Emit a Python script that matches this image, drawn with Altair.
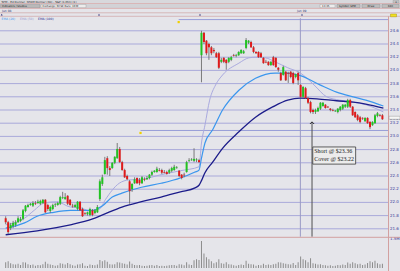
import altair as alt
import pandas as pd

# ---------------- data ----------------
opens = [
    21.76, 21.70, 21.61, 21.64, 21.66, 21.70, 21.72, 21.75, 21.87, 21.93,
    21.96, 21.95, 21.99, 21.99, 21.98, 21.99, 22.04, 21.96, 21.87, 21.90,
    21.96, 21.96, 21.98, 22.07, 22.05, 22.10, 22.04, 21.95, 21.93, 21.90,
    22.01, 21.90, 21.84, 21.82, 21.81, 21.88, 21.84, 21.85, 22.05, 22.28,
    22.43, 22.67, 22.52, 22.52, 22.60, 22.67, 22.81, 22.61, 22.49, 22.40,
    22.32, 22.20, 22.29, 22.37, 22.34, 22.29, 22.35, 22.35, 22.37, 22.42,
    22.46, 22.46, 22.49, 22.49, 22.46, 22.46, 22.45, 22.48, 22.49, 22.52,
    22.48, 22.42, 22.42, 22.46, 22.63, 22.64, 22.63, 22.64, 22.64,
    24.23, 24.57, 24.45, 24.40, 24.35, 24.31, 24.26, 24.26, 24.13, 24.19,
    24.16, 24.13, 24.16, 24.23, 24.22, 24.23, 24.26, 24.26, 24.34, 24.42,
    24.43, 24.35, 24.28, 24.28, 24.26, 24.19, 24.13, 24.13, 24.08, 24.20,
    24.19, 24.04, 23.96, 23.93, 23.98, 23.96, 23.98, 23.96, 23.90, 23.96,
    23.78, 23.60, 23.73, 23.58, 23.52, 23.40, 23.37, 23.38, 23.42, 23.46,
    23.48, 23.45, 23.42, 23.40, 23.38, 23.37, 23.40, 23.42, 23.45, 23.45,
    23.55, 23.45, 23.37, 23.32, 23.29, 23.28, 23.23, 23.28, 23.22, 23.17,
    23.20, 23.31, 23.32, 23.32,
]
highs = [
    21.79, 21.72, 21.69, 21.72, 21.73, 21.79, 21.78, 21.90, 21.96, 21.98,
    21.99, 22.02, 22.02, 22.04, 22.04, 22.05, 22.05, 21.98, 21.95, 21.98,
    21.99, 22.01, 22.10, 22.16, 22.14, 22.11, 22.05, 21.98, 21.98, 22.02,
    22.02, 21.92, 21.85, 21.86, 21.92, 21.90, 21.90, 21.96, 22.35, 22.42,
    22.69, 22.70, 22.55, 22.61, 22.70, 22.90, 22.84, 22.63, 22.51, 22.42,
    22.34, 22.29, 22.38, 22.38, 22.37, 22.40, 22.38, 22.40, 22.43, 22.48,
    22.49, 22.54, 22.52, 22.51, 22.49, 22.48, 22.51, 22.54, 22.57, 22.55,
    22.49, 22.43, 22.45, 22.63, 22.67, 22.67, 22.82, 22.67, 22.66,
    24.60, 24.58, 24.46, 24.42, 24.37, 24.34, 24.28, 24.28, 24.19, 24.20,
    24.17, 24.20, 24.22, 24.25, 24.25, 24.29, 24.32, 24.31, 24.49, 24.46,
    24.45, 24.37, 24.29, 24.29, 24.28, 24.20, 24.16, 24.14, 24.14, 24.22,
    24.20, 24.05, 23.98, 24.07, 23.99, 23.98, 23.99, 23.98, 23.95, 23.98,
    23.79, 23.76, 23.75, 23.60, 23.54, 23.42, 23.42, 23.45, 23.52, 23.52,
    23.49, 23.46, 23.43, 23.42, 23.40, 23.43, 23.46, 23.49, 23.49, 23.57,
    23.57, 23.46, 23.38, 23.34, 23.31, 23.29, 23.29, 23.29, 23.23, 23.23,
    23.34, 23.37, 23.34, 23.34,
]
lows = [
    21.67, 21.52, 21.58, 21.61, 21.63, 21.69, 21.70, 21.73, 21.85, 21.92,
    21.95, 21.93, 21.96, 21.98, 21.96, 21.98, 21.84, 21.87, 21.84, 21.88,
    21.93, 21.95, 21.96, 22.05, 22.04, 21.96, 21.95, 21.92, 21.92, 21.88,
    21.87, 21.78, 21.81, 21.80, 21.79, 21.79, 21.82, 21.84, 22.02, 22.25,
    22.42, 22.42, 22.40, 22.51, 22.58, 22.66, 22.60, 22.48, 22.37, 22.34,
    21.98, 22.16, 22.28, 22.28, 22.26, 22.28, 22.32, 22.34, 22.35, 22.40,
    22.45, 22.45, 22.47, 22.43, 22.44, 22.42, 22.43, 22.46, 22.48, 22.51,
    22.38, 22.35, 22.38, 22.45, 22.61, 22.63, 22.61, 22.61, 22.60,
    23.82, 24.40, 24.23, 24.16, 24.23, 24.26, 24.19, 24.02, 24.11, 24.11,
    24.01, 24.11, 24.14, 24.21, 24.20, 24.22, 24.25, 24.25, 24.32, 24.40,
    24.34, 24.26, 24.25, 24.19, 24.19, 24.10, 24.11, 24.07, 24.07, 24.07,
    24.04, 23.98, 23.84, 23.92, 23.84, 23.81, 23.88, 23.79, 23.88, 23.78,
    23.58, 23.58, 23.57, 23.49, 23.35, 23.34, 23.34, 23.37, 23.40, 23.45,
    23.42, 23.43, 23.38, 23.38, 23.37, 23.35, 23.38, 23.40, 23.43, 23.43,
    23.43, 23.31, 23.28, 23.23, 23.20, 23.25, 23.22, 23.19, 23.11, 23.16,
    23.19, 23.29, 23.30, 23.25,
]
closes = [
    21.70, 21.55, 21.66, 21.69, 21.70, 21.76, 21.75, 21.88, 21.95, 21.96,
    21.98, 21.99, 21.98, 22.01, 22.02, 22.04, 21.85, 21.90, 21.93, 21.96,
    21.97, 21.99, 22.08, 22.08, 22.08, 21.98, 21.96, 21.94, 21.96, 22.01,
    21.88, 21.79, 21.83, 21.85, 21.90, 21.81, 21.88, 21.93, 22.32, 22.38,
    22.64, 22.52, 22.49, 22.60, 22.69, 22.81, 22.61, 22.49, 22.38, 22.35,
    22.17, 22.28, 22.35, 22.29, 22.29, 22.38, 22.34, 22.37, 22.42, 22.46,
    22.48, 22.51, 22.48, 22.45, 22.45, 22.43, 22.49, 22.52, 22.54, 22.53,
    22.40, 22.37, 22.41, 22.61, 22.64, 22.65, 22.66, 22.65, 22.61,
    24.57, 24.43, 24.26, 24.35, 24.26, 24.29, 24.20, 24.04, 24.16, 24.13,
    24.11, 24.19, 24.20, 24.22, 24.23, 24.28, 24.31, 24.29, 24.46, 24.45,
    24.35, 24.28, 24.26, 24.20, 24.20, 24.11, 24.12, 24.08, 24.13, 24.08,
    24.05, 24.01, 23.85, 24.05, 23.85, 23.95, 23.90, 23.81, 23.94, 23.85,
    23.60, 23.75, 23.58, 23.51, 23.37, 23.37, 23.40, 23.43, 23.51, 23.51,
    23.43, 23.44, 23.40, 23.39, 23.39, 23.42, 23.45, 23.48, 23.48, 23.55,
    23.45, 23.32, 23.29, 23.25, 23.22, 23.27, 23.28, 23.20, 23.14, 23.22,
    23.32, 23.35, 23.31, 23.26,
]
volumes_m = [
    0.30, 0.35, 0.25, 0.20, 0.18, 0.22, 0.15, 0.30, 0.28, 0.20,
    0.15, 0.18, 0.12, 0.15, 0.14, 0.20, 0.32, 0.22, 0.18, 0.15,
    0.12, 0.14, 0.25, 0.22, 0.18, 0.26, 0.20, 0.14, 0.12, 0.18,
    0.20, 0.24, 0.12, 0.10, 0.18, 0.16, 0.14, 0.18, 0.42, 0.35,
    0.40, 0.32, 0.20, 0.18, 0.20, 0.30, 0.28, 0.24, 0.22, 0.18,
    0.34, 0.22, 0.16, 0.14, 0.15, 0.12, 0.10, 0.12, 0.14, 0.16,
    0.12, 0.15, 0.10, 0.12, 0.10, 0.12, 0.14, 0.15, 0.16, 0.12,
    0.20, 0.18, 0.14, 0.30, 0.18, 0.16, 0.40, 0.45, 0.42,
    1.40, 0.75, 0.55, 0.45, 0.35, 0.25, 0.30, 0.45, 0.25, 0.22,
    0.30, 0.20, 0.18, 0.14, 0.12, 0.16, 0.18, 0.15, 0.38, 0.22,
    0.20, 0.18, 0.12, 0.16, 0.14, 0.22, 0.15, 0.18, 0.16, 0.20,
    0.22, 0.30, 0.28, 0.25, 0.22, 0.20, 0.18, 0.26, 0.15, 0.30,
    0.60, 0.45, 0.40, 0.30, 0.50, 0.25, 0.22, 0.18, 0.20, 0.16,
    0.14, 0.12, 0.14, 0.10, 0.12, 0.15, 0.14, 0.18, 0.16, 0.28,
    0.22, 0.30, 0.24, 0.20, 0.22, 0.15, 0.18, 0.26, 0.35, 0.30,
    0.38, 0.25, 0.20, 0.22,
]

ema_fast_idx = [0, 7.6, 11.5, 15.5, 20.6, 26.1, 30, 33.9, 37.9, 40.2, 45.8, 49.7, 54.8, 62.7, 70.5, 78, 79,
                80.4, 82.3, 84.7, 87.5, 94.1, 98.1, 100.8, 104.8, 108.7, 113.8, 118.9, 124.4, 129.5, 134.7,
                140.2, 145.3, 152.4]
ema_fast_val = [21.66, 21.76, 21.88, 21.99, 22.01, 21.93, 21.92, 21.87, 21.90, 22.04, 22.29, 22.34, 22.35,
                22.42, 22.48, 22.54, 22.90, 23.17, 23.55, 23.78, 23.93, 24.11, 24.19, 24.20, 24.19, 24.13,
                24.04, 23.96, 23.78, 23.60, 23.55, 23.52, 23.48, 23.37]
ema_mid_idx = [0, 7.6, 12.7, 19.4, 26.1, 35.1, 39.1, 43, 46.9, 54.8, 62.7, 70.5, 76.4, 78, 79, 80.4, 83.5,
               87.5, 94.1, 100.8, 108.7, 113.8, 118.9, 126.8, 133.5, 140.2, 145.3, 152.4]
ema_mid_val = [21.61, 21.69, 21.79, 21.85, 21.88, 21.88, 21.95, 22.08, 22.14, 22.23, 22.29, 22.37, 22.46,
               22.49, 22.67, 22.90, 23.10, 23.40, 23.70, 23.88, 23.96, 23.96, 23.92, 23.78, 23.67, 23.60,
               23.55, 23.46]
ema_slow_idx = [0, 12.7, 26.1, 35.1, 39.1, 46.9, 54.8, 62.7, 70.5, 76.4, 78, 79, 80.4, 83.5, 87.5, 94.1,
                100.8, 107.9, 113.8, 118.9, 125.6, 133.5, 140.2, 145.3, 152.4]
ema_slow_val = [21.51, 21.57, 21.66, 21.75, 21.81, 21.93, 22.01, 22.08, 22.16, 22.22, 22.26, 22.33, 22.45,
                22.61, 22.82, 23.07, 23.29, 23.45, 23.55, 23.58, 23.57, 23.54, 23.52, 23.49, 23.43]

grid_prices = [24.6, 24.4, 24.2, 24.0, 23.8, 23.6, 23.4, 23.2, 23.0, 22.8, 22.6, 22.4, 22.2, 22.0, 21.8, 21.6]
grid_labels = ["24.6", "24.4", "24.2", "24.0", "23.8", "23.6", "23.4", "23.2", "23.0", "22.8", "22.6",
               "22.4", "22.2", "22.0", "21.8", "21.6"]
last_price = 23.26
last_label = "23.26"
vol_label = "1.5M"
vol_label_value = 1.5
short_text = "Short @ $23.36"
cover_text = "Cover @ $23.22"
cover_price = 23.22
entry_bar = 123.6          # bar where the trade arrow points
session_break = 118.9      # day separator between bars
drawn_levels = [24.77, 23.09]
drawn_level_start = [69.8, 54.4]
legend_names = ["EMA (20)", "EMA (50)", "EMA (100)"]

# ---------------- chart ----------------
BG = "#e5e5ea"
GRID = "#a9a9da"
UP, DOWN = "#22c322", "#e01a1a"
C_FAST, C_MID, C_SLOW = "#aaaadf", "#3a96ee", "#1c1c8a"

n = len(opens)
df = pd.DataFrame({"i": list(range(n)), "o": opens, "h": highs, "l": lows, "c": closes, "v": volumes_m})
df["dir"] = ["up" if c >= o else "down" for o, c in zip(opens, closes)]

xs = alt.Scale(domain=[-0.2754, 157.08], nice=False, zero=False)
ys = alt.Scale(domain=[20.9606, 25.0667], nice=False, zero=False)
vs = alt.Scale(domain=[-0.155, 13.862], nice=False, zero=False)


def X(f):
    return alt.X(f, scale=xs, axis=None)


def Y(f):
    return alt.Y(f, scale=ys, axis=None)


dummy = pd.DataFrame({"d": [0]})

grid_df = pd.DataFrame({"p": grid_prices, "lab": grid_labels})
grid = alt.Chart(grid_df).mark_rule(color=GRID, strokeWidth=1).encode(
    y=Y("p:Q"), x=alt.value(0), x2=alt.value(388))
grid_txt = alt.Chart(grid_df).mark_text(align="left", baseline="middle", fontSize=4, color="#3a3a9a",
                                        font="DejaVu Sans").encode(y=Y("p:Q"), x=alt.value(390), text="lab:N")

lvl_df = pd.DataFrame({"p": drawn_levels, "s": drawn_level_start})
levels = alt.Chart(lvl_df).mark_rule(color="#979dd8", strokeWidth=1).encode(
    y=Y("p:Q"), x=X("s:Q"), x2=alt.value(388))
lvl_mark = alt.Chart(lvl_df).mark_square(size=5, color="#f0d000", opacity=1).encode(
    x=X("s:Q"), y=Y("p:Q"), yOffset=alt.value(2.5))

sep_df = pd.DataFrame({"i": [session_break], "p1": [24.79], "p2": [21.48]})
sep = alt.Chart(sep_df).mark_rule(color="#9a9ac6", strokeWidth=1).encode(x=X("i:Q"), y=Y("p1:Q"), y2="p2:Q")


def ma(idx, val, color, w):
    d = pd.DataFrame({"i": idx, "p": val})
    return alt.Chart(d).mark_line(color=color, strokeWidth=w, interpolate="monotone").encode(
        x=X("i:Q"), y=Y("p:Q"))


fast = ma(ema_fast_idx, ema_fast_val, C_FAST, 1)
mid = ma(ema_mid_idx, ema_mid_val, C_MID, 1.2)
slow = ma(ema_slow_idx, ema_slow_val, C_SLOW, 1.3)

wicks = alt.Chart(df).mark_rule(color="#6e6e6e", strokeWidth=0.9).encode(x=X("i:Q"), y=Y("l:Q"), y2="h:Q")
bodies = alt.Chart(df).mark_bar(size=2).encode(
    x=X("i:Q"), y=Y("o:Q"), y2="c:Q",
    color=alt.Color("dir:N", scale=alt.Scale(domain=["up", "down"], range=[UP, DOWN]), legend=None))

arrow_df = pd.DataFrame({"i": [entry_bar], "p1": [cover_price], "p2": [21.48]})
arrow_line = alt.Chart(arrow_df).mark_rule(color="#505050", strokeWidth=1).encode(
    x=X("i:Q"), y=Y("p1:Q"), y2="p2:Q")
arrow_head = alt.Chart(arrow_df).mark_point(shape="M -1 1 L 0 0 L 1 1", filled=False, size=18,
                                            color="#303030", strokeWidth=1, opacity=1).encode(
    x=X("i:Q"), y=Y("p1:Q"))
box_df = pd.DataFrame({"i1": [entry_bar + 0.3], "i2": [entry_bar + 17.6], "p1": [22.84], "p2": [22.58]})
box = alt.Chart(box_df).mark_rect(fill="#ececec", stroke="#3a3a3a", strokeWidth=0.8).encode(
    x=X("i1:Q"), x2="i2:Q", y=Y("p1:Q"), y2="p2:Q")
ann_df = pd.DataFrame({"i": [entry_bar + 0.9, entry_bar + 0.9], "p": [22.775, 22.66],
                       "t": [short_text, cover_text]})
ann = alt.Chart(ann_df).mark_text(align="left", baseline="middle", fontSize=6, color="#1a1a1a",
                                  font="Liberation Serif").encode(x=X("i:Q"), y=Y("p:Q"), text="t:N")

last_df = pd.DataFrame({"p": [last_price], "t": [last_label]})
last_box = alt.Chart(last_df).mark_rect(fill="#f6f6f6", stroke="#9a9a9a", strokeWidth=0.5).encode(
    y=Y("p:Q"), yOffset=alt.value(-3), y2=alt.Y2Datum(last_price), x=alt.value(389), x2=alt.value(400))
last_txt = alt.Chart(last_df).mark_text(align="left", baseline="middle", fontSize=4, color="#1a1a5a",
                                        font="DejaVu Sans").encode(y=Y("p:Q"), x=alt.value(390), text="t:N")

price = alt.layer(grid, grid_txt, levels, sep, fast, mid, slow, wicks, bodies, lvl_mark,
                  arrow_line, arrow_head, box, ann, last_txt)

vol = alt.Chart(df).mark_bar(size=1, color="#8c8c8c").encode(
    x=X("i:Q"), y=alt.Y("v:Q", scale=vs, axis=None), y2=alt.datum(0))
vol_txt = alt.Chart(pd.DataFrame({"v": [vol_label_value], "t": [vol_label]})).mark_text(
    align="left", baseline="middle", fontSize=4, color="#3a3a9a", font="DejaVu Sans").encode(
    y=alt.Y("v:Q", scale=vs, axis=None), x=alt.value(390), text="t:N")
volume = alt.layer(vol, vol_txt)


# ---------------- window chrome ----------------
def crect(x1, y1, x2, y2, fill, stroke=None, sw=0.5):
    kw = {"fill": fill}
    if stroke:
        kw.update(stroke=stroke, strokeWidth=sw)
    return alt.Chart(dummy).mark_rect(**kw).encode(
        x=alt.value(x1), x2=alt.value(x2), y=alt.value(y1), y2=alt.value(y2))


def ctext(x, y, s, size=3, color="#222222", align="left"):
    return alt.Chart(dummy).mark_text(text=s, align=align, baseline="middle", fontSize=size, color=color,
                                      font="DejaVu Sans").encode(x=alt.value(x), y=alt.value(y))


def hline(y, x1, x2, color, w=1):
    return alt.Chart(dummy).mark_rule(color=color, strokeWidth=w).encode(
        x=alt.value(x1), x2=alt.value(x2), y=alt.value(y))


def vline(x, y1, y2, color, w=1):
    return alt.Chart(dummy).mark_rule(color=color, strokeWidth=w).encode(
        x=alt.value(x), y=alt.value(y1), y2=alt.value(y2))


chrome = [
    crect(0, 0, 400, 3.4, "#d8d8dc"),
    ctext(1.5, 1.8, "SPM - Ed Donner, NTAM Donner (30) - S&P (1-Min) (1)", 2.8, "#2a2a2a"),
    crect(393, 0.3, 399, 3.0, "#c4c4c4", "#888888", 0.3),
    ctext(396, 1.7, "x", 2.8, "#222222", "center"),
    hline(3.6, 0, 400, "#d6a6a6", 0.8),
    crect(0, 4.0, 400, 8.0, "#d2d2d6"),
    crect(0.5, 4.4, 40, 7.7, "#b9b9b9", "#8a8a8a", 0.4),
    ctext(2, 6.05, "Indicators / Studies", 2.6, "#222222"),
    crect(41, 4.4, 86, 7.7, "#ececec", "#9a9a9a", 0.4),
    ctext(42.5, 6.05, "Exchange: NYSE   Bars: 30 M", 2.6, "#222222"),
    crect(320, 4.4, 335, 7.7, "#ececec", "#9a9a9a", 0.4),
    ctext(322, 6.05, "13:35", 2.6, "#222222"),
    crect(337, 4.4, 360, 7.7, "#bdbdbd", "#8a8a8a", 0.4),
    ctext(339, 6.05, "Symbol: SPM", 2.6, "#222222"),
    crect(362, 4.4, 380, 7.7, "#bdbdbd", "#8a8a8a", 0.4),
    ctext(371, 6.05, "Draw", 2.6, "#222222", "center"),
    crect(382, 4.4, 399, 7.7, "#bdbdbd", "#8a8a8a", 0.4),
    ctext(390.5, 6.05, "Edit", 2.6, "#222222", "center"),
    hline(8.4, 0, 400, "#d6a6a6", 0.8),
    ctext(2, 10.6, "Jun 08", 3, "#33336e"),
    ctext(297, 10.6, "Jun 09", 3, "#33336e"),
    hline(12.8, 0, 400, "#d0a4a4", 0.7),
    hline(16.3, 0, 400, "#d0a4a4", 0.7),
    crect(390.5, 14.0, 396.5, 16.8, "#f0e020", "#a08800", 0.4),
    ctext(1.5, 18.9, legend_names[0], 3, C_MID),
    ctext(20, 18.9, legend_names[1], 3, "#9a9ad0"),
    ctext(38, 18.9, legend_names[2], 3, C_SLOW),
    vline(388.5, 16.3, 271, "#d2a0a0", 1),
    hline(237.3, 0, 400, "#d2a0a0", 1),
    last_box,
]
for xm in [1.7, 99, 200, 302]:
    chrome.append(alt.Chart(dummy).mark_point(shape="triangle-up", size=4, filled=True, color="#33337a",
                                              opacity=1).encode(x=alt.value(xm), y=alt.value(14.6)))

chart = alt.layer(price, volume, *chrome).resolve_scale(y="independent").properties(
    width=400, height=271, background=BG, padding=0, autosize=alt.AutoSizeParams(type="none")
).configure_view(stroke=None)

chart.save("out.html", embed_options={"renderer": "svg", "actions": False})
